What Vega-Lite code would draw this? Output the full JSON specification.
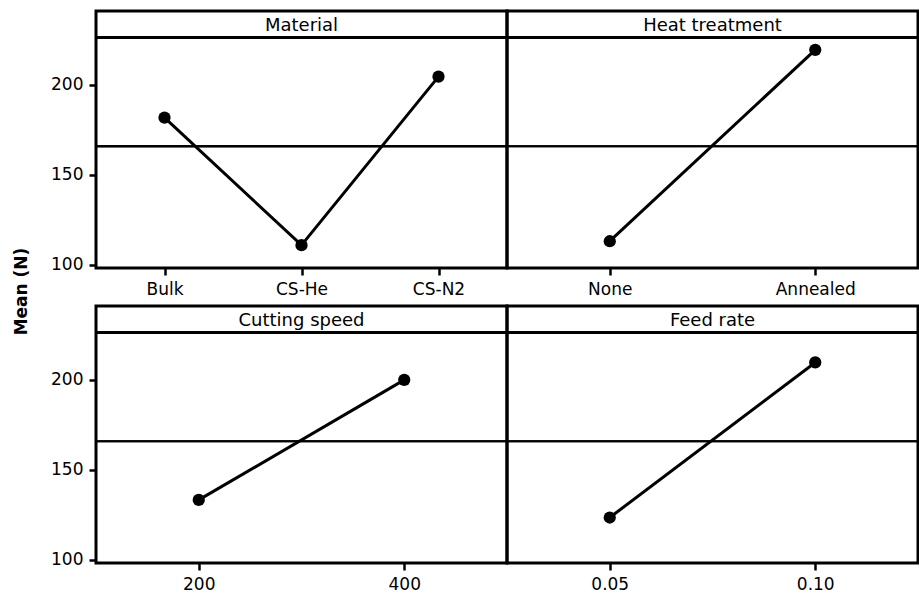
{
  "$schema": "https://vega.github.io/schema/vega-lite/v6.json",
  "background": "white",
  "padding": {"left": 12, "top": 9, "right": 0, "bottom": 5},
  "title": {"text": "Mean (N)", "orient": "left", "anchor": "middle", "font": "DejaVu Sans", "fontSize": 17, "fontWeight": "bold", "color": "black", "offset": 20, "dx": 10},
  "data": {"values": [
    {"factor": "Material", "level": "Bulk", "mean": 181.8},
    {"factor": "Material", "level": "CS-He", "mean": 110.8},
    {"factor": "Material", "level": "CS-N2", "mean": 204.6},
    {"factor": "Heat treatment", "level": "None", "mean": 113.0},
    {"factor": "Heat treatment", "level": "Annealed", "mean": 219.5},
    {"factor": "Cutting speed", "level": "200", "mean": 133.2},
    {"factor": "Cutting speed", "level": "400", "mean": 200.0},
    {"factor": "Feed rate", "level": "0.05", "mean": 123.4},
    {"factor": "Feed rate", "level": "0.10", "mean": 209.7}
  ]},
  "facet": {"field": "factor", "type": "nominal", "sort": ["Material", "Heat treatment", "Cutting speed", "Feed rate"],
    "header": {"title": null, "labelOrient": "top", "labelPadding": -33, "labelFont": "DejaVu Sans", "labelFontSize": 18, "labelColor": "black", "labelBaseline": "middle"}},
  "columns": 2,
  "bounds": "flush",
  "spacing": {"column": 0, "row": 38},
  "resolve": {"scale": {"x": "independent"}, "axis": {"x": "independent"}},
  "spec": {
    "width": 411,
    "height": 257,
    "layer": [
      {"mark": {"type": "rule", "color": "black", "strokeWidth": 2}, "encoding": {"y": {"datum": 165.8, "type": "quantitative"}}},
      {"mark": {"type": "rule", "color": "black", "strokeWidth": 3}, "encoding": {"y": {"datum": 226.4, "type": "quantitative"}}},
      {"mark": {"type": "line", "color": "black", "strokeWidth": 3},
       "encoding": {
         "x": {"field": "level", "type": "nominal", "sort": null, "scale": {"type": "point", "padding": 0.5}, "axis": {"title": null, "labelAngle": 0}},
         "y": {"field": "mean", "type": "quantitative", "scale": {"domain": [98.1, 241.1], "nice": false, "zero": false}, "axis": {"title": null, "values": [100, 150, 200]}}
       }},
      {"mark": {"type": "point", "filled": true, "color": "black", "opacity": 1, "size": 150},
       "encoding": {
         "x": {"field": "level", "type": "nominal", "sort": null},
         "y": {"field": "mean", "type": "quantitative"}
       }}
    ]
  },
  "config": {
    "view": {"stroke": "black", "strokeWidth": 3},
    "axis": {"domain": false, "grid": false, "ticks": true, "tickColor": "black", "tickSize": 7, "tickWidth": 2.5, "labelColor": "black", "labelFont": "DejaVu Sans", "labelFontSize": 17, "labelPadding": 6}
  }
}
